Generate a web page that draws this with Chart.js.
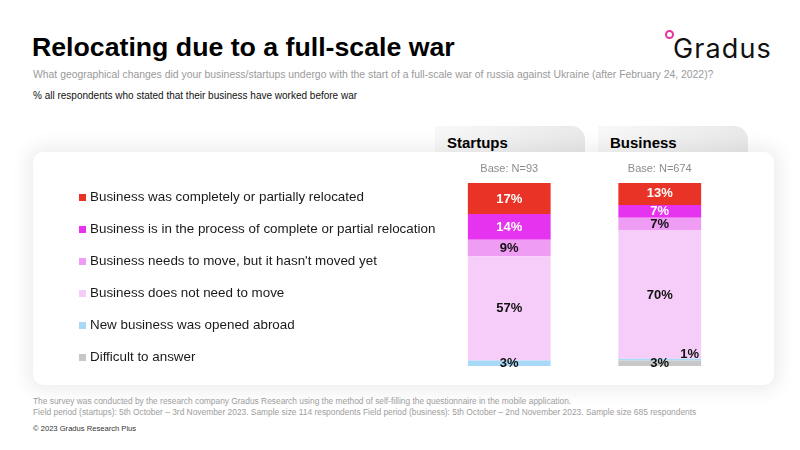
<!DOCTYPE html>
<html>
<head>
<meta charset="utf-8">
<script src="https://cdn.jsdelivr.net/npm/chart.js@4.4.1/dist/chart.umd.min.js"></script>
<style>
	body {
		margin: 0;
		width: 800px;
		height: 450px;
		background: #fff;
		position: relative;
		overflow: hidden;
		font-family: 'Liberation Sans', Arial, sans-serif;
	}
	.abs { position: absolute; white-space: nowrap; line-height: 1; }
	#title { left: 32px; top: 33.5px; font-size: 26.7px; font-weight: bold; color: #000; }
	#question { left: 33px; top: 69.5px; font-size: 10.4px; color: #9a9a9a; }
	#base { left: 33px; top: 91px; font-size: 10px; color: #111; }
	#logo { left: 673px; top: 35px; font-family: Inter, 'Open Sans', sans-serif; font-size: 27px; letter-spacing: 1.1px; color: #111; }
	#ring { left: 665px; top: 30px; width: 5px; height: 5px; border: 2px solid #e8329a; border-radius: 50%; }
	.tab {
		top: 126px;
		width: 150px;
		height: 40px;
		border-radius: 0 14px 0 0;
		background: linear-gradient(90deg, #f8f8f8, #e9e9e9);
	}
	.tab span { position: absolute; left: 12px; top: 8.5px; font-size: 15px; font-weight: bold; color: #000; }
	#card {
		left: 33px;
		top: 152px;
		width: 741px;
		height: 233px;
		background: #fff;
		border-radius: 10px;
		box-shadow: 0 0 18px 6px rgba(0, 0, 0, 0.07);
	}
	#chartBox { left: 33px; top: 152px; width: 741px; height: 233px; }
	#legend { left: 79px; top: 190px; margin: 0; padding: 0; list-style: none; }
	#legend li { height: 32px; display: flex; align-items: flex-start; font-size: 13.4px; color: #1a1a1a; }
	#legend li i { display: inline-block; width: 7px; height: 7px; margin: 3.5px 4px 0 0; }
	.foot { left: 33px; font-size: 8.4px; color: #9d9d9d; }
	#copy { left: 33px; top: 425px; font-size: 7.6px; color: #333; }
</style>
</head>
<body>
<div id="title" class="abs">Relocating due to a full-scale war</div>
<div id="ring" class="abs"></div>
<div id="logo" class="abs">Gradus</div>
<div id="question" class="abs">What geographical changes did your business/startups undergo with the start of a full-scale war of russia against Ukraine (after February 24, 2022)?</div>
<div id="base" class="abs">% all respondents who stated that their business have worked before war</div>

<div class="abs tab" style="left:435px"><span>Startups</span></div>
<div class="abs tab" style="left:598px"><span>Business</span></div>
<div id="card" class="abs"></div>
<div id="chartBox" class="abs"><canvas id="chart" width="741" height="233"></canvas></div>
<ul id="legend" class="abs"></ul>

<div class="abs foot" style="top:397px">The survey was conducted by the research company Gradus Research using the method of self-filling the questionnaire in the mobile application.</div>
<div class="abs foot" style="top:408px">Field period (startups): 5th October – 3rd November 2023. Sample size 114 respondents Field period (business): 5th October – 2nd November 2023. Sample size 685 respondents</div>
<div id="copy" class="abs">© 2023 Gradus Research Plus</div>

<script>
const categories = ['Base: N=93', 'Base: N=674'];

const relocated = [17, 13];
const inProcess = [14, 7];
const needsToMove = [9, 7];
const noNeed = [57, 70];
const openedAbroad = [3, 1];
const difficult = [0, 3];

// bottom of the stack first, the legend lists them in reverse
const series = [
	{ label: 'Difficult to answer', data: difficult, color: '#c8c8c8', text: '#111' },
	{ label: 'New business was opened abroad', data: openedAbroad, color: '#a8daf7', text: '#111' },
	{ label: 'Business does not need to move', data: noNeed, color: '#f6cdf9', text: '#111' },
	{ label: "Business needs to move, but it hasn't moved yet", data: needsToMove, color: '#ef9cf4', text: '#111' },
	{ label: 'Business is in the process of complete or partial relocation', data: inProcess, color: '#e633ef', text: '#fff' },
	{ label: 'Business was completely or partially relocated', data: relocated, color: '#ea3327', text: '#fff' },
];

const segmentLabels = {
	id: 'segmentLabels',
	afterDatasetsDraw(chart) {
		const ctx = chart.ctx;
		ctx.save();
		ctx.font = 'bold 13px "Liberation Sans", Arial, sans-serif';
		ctx.textBaseline = 'middle';
		chart.data.datasets.forEach((ds, i) => {
			chart.getDatasetMeta(i).data.forEach((bar, j) => {
				const value = ds.data[j];
				if (!value) return;
				ctx.fillStyle = ds.labelColor;
				if (Math.abs(bar.base - bar.y) < 4) {
					// too thin, put it above the bar end
					ctx.textAlign = 'right';
					ctx.fillText(value + '%', bar.x + bar.width / 2 - 2, bar.y - 4.5);
				} else {
					ctx.textAlign = 'center';
					ctx.fillText(value + '%', bar.x, (bar.y + bar.base) / 2 + 0.5);
				}
			});
		});
		ctx.restore();
	},
};

const htmlLegend = {
	id: 'htmlLegend',
	afterUpdate(chart) {
		const ul = document.getElementById('legend');
		ul.innerHTML = '';
		const items = Chart.defaults.plugins.legend.labels.generateLabels(chart).reverse();
		items.forEach((item) => {
			const li = document.createElement('li');
			const box = document.createElement('i');
			box.style.background = item.fillStyle;
			li.append(box, document.createTextNode(item.text));
			ul.append(li);
		});
	},
};

new Chart(document.getElementById('chart'), {
	type: 'bar',
	data: {
		labels: categories,
		datasets: series.map((s) => ({
			label: s.label,
			data: s.data,
			backgroundColor: s.color,
			borderWidth: 0,
			labelColor: s.text,
			categoryPercentage: 1,
			barPercentage: 0.55,
		})),
	},
	options: {
		responsive: false,
		animation: false,
		layout: { padding: { left: 401, right: 39, top: 0, bottom: 19 } },
		scales: {
			x: {
				stacked: true,
				position: 'top',
				grid: { display: false, drawTicks: false },
				border: { display: false },
				ticks: { color: '#8c8c8c', font: { size: 11, family: "'Liberation Sans', Arial, sans-serif" }, padding: 7 },
				afterFit(scale) {
					scale.height = 31;
				},
			},
			y: { stacked: true, display: false, min: 0, max: 100 },
		},
		plugins: {
			legend: { display: false },
			tooltip: { enabled: false },
		},
	},
	plugins: [segmentLabels, htmlLegend],
});
</script>
</body>
</html>
